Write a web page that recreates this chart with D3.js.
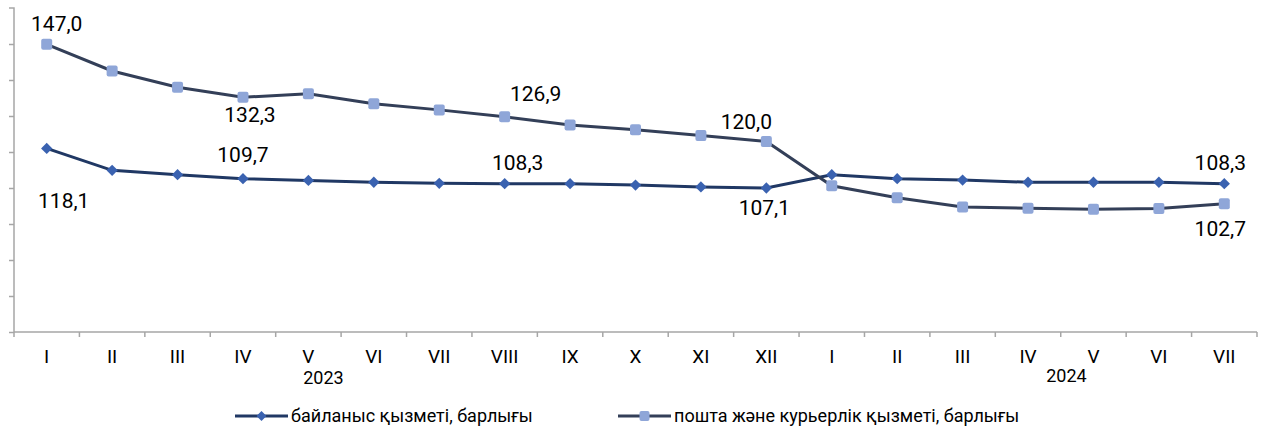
<!DOCTYPE html>
<html>
<head>
<meta charset="utf-8">
<script src="https://cdn.jsdelivr.net/npm/d3@7"></script>
<style>
  body { margin: 0; background: #fff; }
  text { font-family: Roboto, "Noto Sans", sans-serif; fill: #000; }
</style>
</head>
<body>
<div id="chart"></div>
<script>
/* Data. */
const months = ["I", "II", "III", "IV", "V", "VI", "VII", "VIII", "IX", "X", "XI", "XII",
                "I", "II", "III", "IV", "V", "VI", "VII"]
const years = ["2023", "2024"]
const commValues = [118.1, 112.0, 110.8, 109.7, 109.2, 108.7, 108.4, 108.3, 108.3, 107.9, 107.4, 107.1,
                    110.8, 109.7, 109.3, 108.7, 108.7, 108.7, 108.3]
const postValues = [147.0, 139.6, 135.1, 132.3, 133.3, 130.5, 128.8, 126.9, 124.6, 123.3, 121.7, 120.0,
                    107.7, 104.4, 101.8, 101.5, 101.2, 101.4, 102.7]
const seriesNames = ["байланыс қызметі, барлығы", "пошта және курьерлік қызметі, барлығы"]

/* Labelled points: index of the point. */
const commLabels = [0, 3, 7, 11, 18]
const postLabels = [0, 3, 7, 11, 18]

/* Label offsets from the point (layout only): [dx, dy]. */
const commOffsets = [[17, 60], [0, -17], [13, -14], [-2, 27], [-4, -14]]
const postOffsets = [[10, -13], [7, 25], [31, -16], [-20, -13], [-4, 32]]

/* Svg size. */
const width = 1261
const height = 428
const margin = { top: 8, right: 4, bottom: 96, left: 14 }

const svg = d3.select("#chart")
  .append("svg")
  .attr("width", width)
  .attr("height", height)

/* Scales. */
const keys = months.map((m, i) => i)
const x = d3.scaleBand()
  .domain(keys)
  .range([margin.left, width - margin.right])

const y = d3.scaleLinear()
  .domain([67.1, 157.1])
  .range([height - margin.bottom, margin.top])

const cx = i => x(i) + x.bandwidth() / 2

/* Y axis (no labels). */
svg.append("g")
  .attr("transform", `translate(${margin.left},0)`)
  .call(d3.axisLeft(y).tickValues(d3.range(9).map(k => 67.1 + k * 10)).tickSize(5).tickFormat(""))
  .call(g => g.selectAll("line, path").attr("stroke", "#a6a6a6").attr("stroke-width", 1.5))
  .call(g => g.select(".domain").attr("d", `M-5,${y(157.1)}H0V${y(67.1)}`))

/* X axis. */
const xAxis = svg.append("g")
  .attr("transform", `translate(0,${height - margin.bottom})`)

xAxis.append("line")
  .attr("x1", margin.left).attr("x2", width - margin.right)
  .attr("stroke", "#a6a6a6").attr("stroke-width", 1.5)

xAxis.selectAll(".tick")
  .data(keys.concat([keys.length]))
  .enter()
  .append("line")
  .attr("x1", d => d < keys.length ? x(d) : x(keys.length - 1) + x.bandwidth())
  .attr("x2", d => d < keys.length ? x(d) : x(keys.length - 1) + x.bandwidth())
  .attr("y1", 0).attr("y2", 5)
  .attr("stroke", "#a6a6a6").attr("stroke-width", 1.5)

xAxis.selectAll(".mlabel")
  .data(keys)
  .enter()
  .append("text")
  .attr("x", d => cx(d))
  .attr("y", 31)
  .attr("text-anchor", "middle")
  .style("font-size", "19px")
  .text(d => months[d])

/* Year labels. */
svg.append("text")
  .attr("x", cx(4) + 15)
  .attr("y", height - margin.bottom + 52)
  .attr("text-anchor", "middle")
  .style("font-size", "18px")
  .text(years[0])

svg.append("text")
  .attr("x", cx(16) - 27)
  .attr("y", height - margin.bottom + 50)
  .attr("text-anchor", "middle")
  .style("font-size", "18px")
  .text(years[1])

/* Lines. */
const line = d3.line()
  .x((d, i) => cx(i))
  .y(d => y(d))

const lineColors = ["#203864", "#333f58"]
const markerColors = ["#3a62b0", "#8fa6d8"]

svg.append("path")
  .datum(commValues)
  .attr("fill", "none")
  .attr("stroke", lineColors[0])
  .attr("stroke-width", 3)
  .attr("d", line)

svg.append("path")
  .datum(postValues)
  .attr("fill", "none")
  .attr("stroke", lineColors[1])
  .attr("stroke-width", 3)
  .attr("d", line)

/* Markers. */
svg.selectAll(".diamond")
  .data(commValues)
  .enter()
  .append("rect")
  .attr("width", 8).attr("height", 8)
  .attr("x", -4).attr("y", -4)
  .attr("fill", markerColors[0])
  .attr("transform", (d, i) => `translate(${cx(i)},${y(d)}) rotate(45)`)

svg.selectAll(".square")
  .data(postValues)
  .enter()
  .append("rect")
  .attr("width", 11).attr("height", 11)
  .attr("rx", 2)
  .attr("x", (d, i) => cx(i) - 5.5)
  .attr("y", d => y(d) - 5.5)
  .attr("fill", markerColors[1])

/* Value labels. */
const fmt = v => d3.format(".1f")(v).replace(".", ",")

const drawLabels = (labels, offsets, values) => {
  svg.selectAll(null)
    .data(labels)
    .enter()
    .append("text")
    .attr("x", (d, k) => cx(d) + offsets[k][0])
    .attr("y", (d, k) => y(values[d]) + offsets[k][1])
    .attr("text-anchor", "middle")
    .style("font-size", "21px")
    .text(d => fmt(values[d]))
}
drawLabels(commLabels, commOffsets, commValues)
drawLabels(postLabels, postOffsets, postValues)

/* Legend. */
const legend = svg.append("g").attr("transform", `translate(0,416)`)
const legendX = [235, 618]

legendX.forEach((lx, k) => {
  legend.append("line")
    .attr("x1", lx).attr("x2", lx + 53)
    .attr("stroke", lineColors[k]).attr("stroke-width", 3)
  if (k === 0) {
    legend.append("rect")
      .attr("width", 7).attr("height", 7).attr("x", -3.5).attr("y", -3.5)
      .attr("fill", markerColors[0])
      .attr("transform", `translate(${lx + 26.5},0) rotate(45)`)
  } else {
    legend.append("rect")
      .attr("width", 10).attr("height", 10).attr("rx", 2)
      .attr("x", lx + 21.5).attr("y", -5)
      .attr("fill", markerColors[1])
  }
  legend.append("text")
    .attr("x", lx + 56)
    .attr("y", 6)
    .style("font-size", "18px")
    .text(seriesNames[k])
})
</script>
</body>
</html>
